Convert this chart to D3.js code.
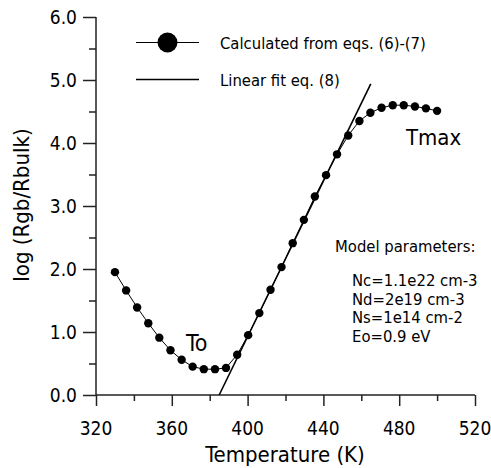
<!DOCTYPE html>
<html>
<head>
<meta charset="utf-8">
<script src="https://cdn.jsdelivr.net/npm/d3@7"></script>
<style>
  body { margin: 0; background: #fff; }
  text { font-family: "DejaVu Sans Condensed", "DejaVu Sans", sans-serif; fill: #000; }
</style>
</head>
<body>
<script>
// calculated curve, eqs. (6)-(7)
var temps = [330, 335.9, 341.7, 347.6, 353.4, 359.3, 365.2, 371.0, 376.9, 382.8,
             388.6, 394.5, 400.3, 406.2, 412.1, 417.9, 423.8, 429.7, 435.5, 441.4,
             447.2, 453.1, 459.0, 464.8, 470.7, 476.6, 482.4, 488.3, 494.1, 500];
var logR = [1.95, 1.66, 1.39, 1.14, 0.91, 0.71, 0.56, 0.45, 0.41, 0.41,
            0.43, 0.64, 0.95, 1.30, 1.67, 2.03, 2.41, 2.78, 3.15, 3.49,
            3.82, 4.12, 4.35, 4.48, 4.56, 4.60, 4.60, 4.58, 4.55, 4.51];

// linear fit, eq. (8)
var fitT = [385, 465];
var fitY = [0, 4.94];

var xTicks = [320, 360, 400, 440, 480, 520];
var yTicks = [0, 1, 2, 3, 4, 5, 6];
var legendLabels = ['Calculated from eqs. (6)-(7)', 'Linear fit eq. (8)'];
var params = ['Nc=1.1e22 cm-3', 'Nd=2e19 cm-3', 'Ns=1e14 cm-2', 'Eo=0.9 eV'];

var width = 491, height = 468;
var svg = d3.select('body').append('svg').attr('width', width).attr('height', height);

var x = d3.scaleLinear().domain([320, 520]).range([96, 475]);
var y = d3.scaleLinear().domain([0, 6]).range([395, 17]);

// x axis
var xAxis = svg.append('g').attr('transform', 'translate(0,395)');
xAxis.call(d3.axisBottom(x).tickValues(d3.range(320, 521, 20)).tickSize(6).tickFormat(''));
xAxis.call(g => g.selectAll('.tick line').filter(d => xTicks.indexOf(d) >= 0).attr('y2', 11));
xAxis.selectAll('.domain').attr('d', 'M96,0H475');
svg.selectAll('.lbl-x').data(xTicks).enter().append('text')
   .attr('x', d => x(d)).attr('y', 435).attr('text-anchor', 'middle')
   .style('font-size', '19px').text(d => d);

// y axis
var yAxis = svg.append('g').attr('transform', 'translate(96,0)');
yAxis.call(d3.axisLeft(y).tickValues(d3.range(0, 6.01, 0.5)).tickSize(7).tickFormat(''));
yAxis.call(g => g.selectAll('.tick line').filter(d => Math.abs(d - Math.round(d)) < 1e-6).attr('x2', -13));
yAxis.selectAll('.domain').attr('d', 'M0,17V395');
svg.selectAll('.lbl-y').data(yTicks).enter().append('text')
   .attr('x', 77).attr('y', d => y(d) + 7).attr('text-anchor', 'end')
   .style('font-size', '19px').text(d => d.toFixed(1));

svg.selectAll('.domain, .tick line').attr('stroke', '#222').attr('stroke-width', 1.5);

// titles
svg.append('text').attr('x', 285).attr('y', 462).attr('text-anchor', 'middle')
   .style('font-size', '22px').text('Temperature (K)');
svg.append('text').attr('transform', 'translate(29,205) rotate(-90)').attr('text-anchor', 'middle')
   .style('font-size', '22px').text('log (Rgb/Rbulk)');

// fit line
svg.append('path')
   .datum(fitT.map((t, i) => [t, fitY[i]]))
   .attr('d', d3.line().x(d => x(d[0])).y(d => y(d[1])))
   .attr('fill', 'none').attr('stroke', '#000').attr('stroke-width', 1.6);

// calculated curve
var pts = temps.map((t, i) => [t, logR[i]]);
svg.append('path').datum(pts)
   .attr('d', d3.line().x(d => x(d[0])).y(d => y(d[1])))
   .attr('fill', 'none').attr('stroke', '#000').attr('stroke-width', 1);
svg.selectAll('.pt').data(pts).enter().append('circle')
   .attr('cx', d => x(d[0])).attr('cy', d => y(d[1])).attr('r', 4.2).attr('fill', '#000');

// legend
var lg = svg.append('g');
lg.append('line').attr('x1', 136).attr('x2', 199).attr('y1', 42.5).attr('y2', 42.5)
  .attr('stroke', '#000').attr('stroke-width', 1);
lg.append('circle').attr('cx', 167.5).attr('cy', 42.5).attr('r', 10).attr('fill', '#000');
lg.append('line').attr('x1', 136).attr('x2', 199).attr('y1', 79.5).attr('y2', 79.5)
  .attr('stroke', '#000').attr('stroke-width', 1.6);
lg.selectAll('.lt').data(legendLabels).enter().append('text')
  .attr('x', 220).attr('y', (d, i) => 48.5 + i * 37)
  .style('font-size', '16.5px').text(d => d);

// annotations
svg.append('text').attr('x', 186).attr('y', 351).style('font-size', '23px').text('To');
svg.append('text').attr('x', 406).attr('y', 145).style('font-size', '22px').text('Tmax');

svg.append('text').attr('x', 335).attr('y', 252).style('font-size', '16.5px').text('Model parameters:');
svg.selectAll('.par').data(params).enter().append('text')
   .attr('x', 352).attr('y', (d, i) => 286 + i * 18.5)
   .style('font-size', '16.5px').text(d => d);
</script>
</body>
</html>
